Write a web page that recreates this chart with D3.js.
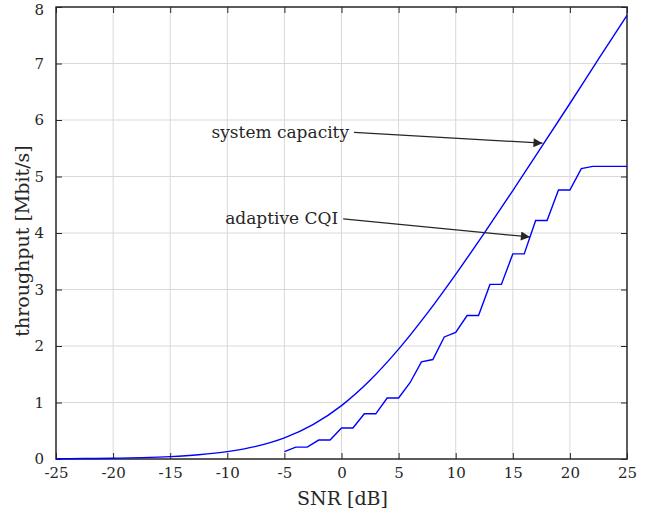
<!DOCTYPE html>
<html><head><meta charset="utf-8">
<script src="https://cdn.jsdelivr.net/npm/d3@7"></script>
<style>body{margin:0;background:#fff}svg{display:block}text{font-family:"DejaVu Serif",serif;fill:#262626}</style>
</head><body><svg id="c" width="655" height="518"></svg>
<script>
const xTicks = [-25,-20,-15,-10,-5,0,5,10,15,20,25];
const yTicks = [0,1,2,3,4,5,6,7,8];
const capSNR = [-25,-22.5,-20,-17.5,-15,-12.5,-10,-7.5,-5,-2.5,0,2.5,5,7.5,10,12.5,15,17.5,20,22.5,25];
const capVal = [0.004,0.008,0.014,0.024,0.042,0.075,0.13,0.223,0.374,0.608,0.945,1.393,1.944,2.577,3.269,3.998,4.751,5.518,6.292,7.078,7.852];
const cqiSNR = [-5,-4,-3,-2,-1,0,1,2,3,4,5,6,7,8,9,10,11,12,13,14,15,16,17,18,19,20,21,22,23,24,25];
const cqiVal = [0.13,0.21,0.21,0.335,0.335,0.55,0.55,0.80,0.80,1.08,1.08,1.35,1.72,1.76,2.16,2.24,2.54,2.54,3.09,3.09,3.63,3.63,4.22,4.22,4.76,4.76,5.14,5.18,5.18,5.18,5.18];
const annLabels = ["system capacity","adaptive CQI"];
const annFrom = [[1.1,5.78],[0.15,4.25]];
const annTo = [[17.6,5.59],[16.5,3.93]];

const svg = d3.select("#c");
const L=56,R=627,T=7,B=459;
const x = d3.scaleLinear().domain([-25,25]).range([L,R]);
const y = d3.scaleLinear().domain([0,8]).range([B,T]);

// grid
svg.append("g").selectAll("line").data(xTicks.slice(1,-1)).join("line")
  .attr("x1",d=>x(d)).attr("x2",d=>x(d)).attr("y1",T).attr("y2",B)
  .attr("stroke","#d9d9d9").attr("stroke-width",1);
svg.append("g").selectAll("line").data(yTicks.slice(1,-1)).join("line")
  .attr("y1",d=>y(d)).attr("y2",d=>y(d)).attr("x1",L).attr("x2",R)
  .attr("stroke","#d9d9d9").attr("stroke-width",1);

const fs = "15px";
const ax = svg.append("g").attr("transform",`translate(0,${B})`)
  .call(d3.axisBottom(x).tickValues(xTicks).tickSize(-6).tickPadding(14).tickFormat(d=>String(d)));
const axT = svg.append("g").attr("transform",`translate(0,${T})`)
  .call(d3.axisTop(x).tickValues(xTicks).tickSize(-6).tickFormat(""));
const ay = svg.append("g").attr("transform",`translate(${L},0)`)
  .call(d3.axisLeft(y).tickValues(yTicks).tickSize(-6).tickPadding(12).tickFormat(d=>String(d)));
const ayR = svg.append("g").attr("transform",`translate(${R},0)`)
  .call(d3.axisRight(y).tickValues(yTicks).tickSize(-6).tickFormat(""));
[ax,axT,ay,ayR].forEach(g=>{
  g.select(".domain").remove();
  g.selectAll("line").attr("stroke","#262626").attr("stroke-width",1);
  g.selectAll("text").style("font-size",fs).style("font-family",'"DejaVu Serif",serif').attr("fill","#262626");
});
ax.selectAll("text").attr("dy","0.32em");
ay.selectAll("text").filter(d=>d===8).attr("dy","0.5em");
svg.append("rect").attr("x",L).attr("y",T).attr("width",R-L).attr("height",B-T)
  .attr("fill","none").attr("stroke","#262626").attr("stroke-width",1.5);

const line = d3.line().x(d=>x(d[0])).y(d=>y(d[1]));
svg.append("path").datum(capSNR.map((s,i)=>[s,capVal[i]]))
  .attr("d",line.curve(d3.curveMonotoneX)).attr("fill","none").attr("stroke","#0000ff").attr("stroke-width",1.4);
svg.append("path").datum(cqiSNR.map((s,i)=>[s,cqiVal[i]]))
  .attr("d",d3.line().x(d=>x(d[0])).y(d=>y(d[1]))).attr("fill","none").attr("stroke","#0000ff").attr("stroke-width",1.4);

// annotations
svg.append("defs").append("marker").attr("id","ah").attr("viewBox","0 0 10 10")
  .attr("refX",10).attr("refY",5).attr("markerWidth",15).attr("markerHeight",9)
  .attr("markerUnits","userSpaceOnUse").attr("orient","auto")
  .append("path").attr("d","M0,0L10,5L0,10Z").attr("fill","#262626");
annLabels.forEach((t,i)=>{
  svg.append("line").attr("x1",x(annFrom[i][0])).attr("y1",y(annFrom[i][1]))
    .attr("x2",x(annTo[i][0])).attr("y2",y(annTo[i][1]))
    .attr("stroke","#262626").attr("stroke-width",1.2).attr("marker-end","url(#ah)");
  svg.append("text").attr("x",x(annFrom[i][0])-5).attr("y",y(annFrom[i][1]))
    .attr("dy","0.33em").attr("text-anchor","end").style("font-size","17px").text(t);
});

svg.append("text").attr("x",(L+R)/2+1).attr("y",505).attr("text-anchor","middle").style("font-size","19px").text("SNR [dB]");
svg.append("text").attr("transform",`translate(29,${(T+B)/2+8}) rotate(-90)`).attr("text-anchor","middle").style("font-size","19px").text("throughput [Mbit/s]");
</script></body></html>
